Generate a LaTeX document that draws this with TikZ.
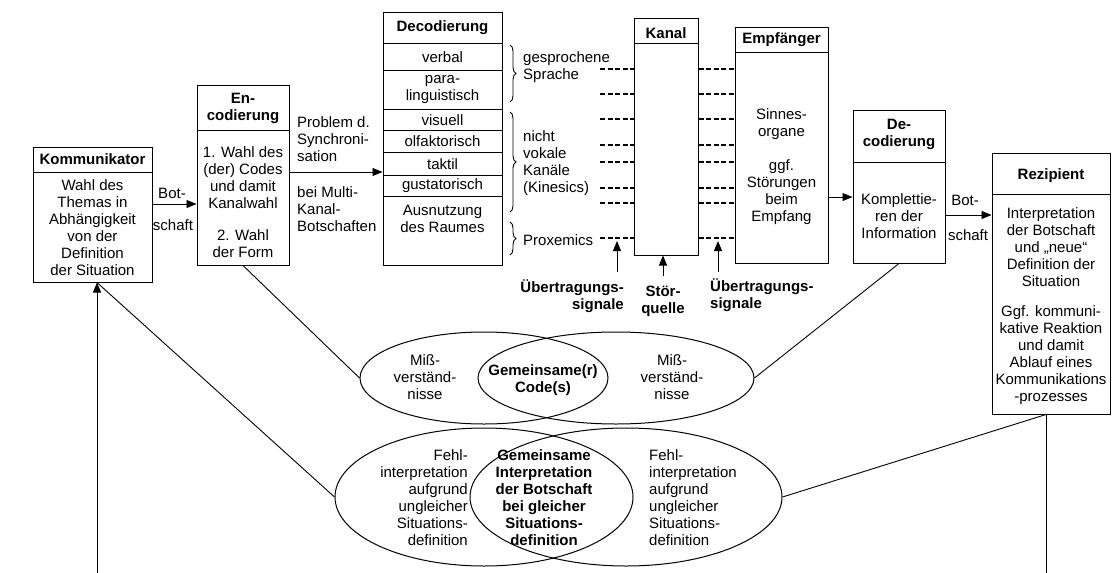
\documentclass[tikz,border=0pt]{standalone}
\usepackage{fontspec}
\setmainfont{Liberation Sans}
\usetikzlibrary{shapes.geometric,arrows.meta,decorations.pathreplacing}
\begin{document}
\begin{tikzpicture}[x=1pt,y=-1pt,
  box/.style={draw, line width=1pt, inner sep=0pt},
  txt/.style={font=\fontsize{15}{17}\selectfont, align=center, inner sep=0pt},
  ttl/.style={font=\fontsize{15}{17}\selectfont\bfseries, align=center, inner sep=0pt},
  arr/.style={line width=0.9pt, -{Triangle[length=10pt,width=8pt]}},
  ln/.style={line width=0.9pt},
  dsh/.style={line width=1.1pt, dash pattern=on 5pt off 2.5pt},
  brc/.style={decorate, decoration={brace, amplitude=6pt}, line width=0.9pt},
  ell/.style={draw, ellipse, line width=1pt, inner sep=0pt}]
\useasboundingbox (0,0) rectangle (1114,573);

% boxes
\node[box, minimum width=119pt, minimum height=135pt] (komm) at (92.5,214.5) {};
\node[box, minimum width=92pt, minimum height=180pt] (enc) at (243,175) {};
\node[box, minimum width=119pt, minimum height=253pt] (dec) at (442.5,138.5) {};
\node[box, minimum width=64pt, minimum height=237pt] (kanal) at (666,136.5) {};
\node[box, minimum width=93pt, minimum height=236pt] (empf) at (781.5,145) {};
\node[box, minimum width=92pt, minimum height=153pt] (dec2) at (899,186.5) {};
\node[box, minimum width=118pt, minimum height=261pt] (rez) at (1051,283.5) {};

% dividers
\draw[line width=1pt] (komm.west |- 0,172) -- (komm.east |- 0,172);
\draw[line width=1pt] (enc.west |- 0,130) -- (enc.east |- 0,130);
\foreach \yy in {43,70,109,130,152,175,196}
  \draw[line width=1pt] (dec.west |- 0,\yy) -- (dec.east |- 0,\yy);
\draw[line width=1pt] (kanal.west |- 0,43) -- (kanal.east |- 0,43);
\draw[line width=1pt] (empf.west |- 0,52) -- (empf.east |- 0,52);
\draw[line width=1pt] (dec2.west |- 0,162) -- (dec2.east |- 0,162);
\draw[line width=1pt] (rez.west |- 0,194) -- (rez.east |- 0,194);

% Kommunikator
\node[ttl] (kommT) at (92.5,159.5) {Kommunikator};
\node[txt] (kommB) at (92.5,228) {Wahl des\\Themas in\\Abhängigkeit\\von der\\Definition\\der Situation};
\node[txt] (bot1) at (172,193) {Bot-};
\node[txt] (sch1) at (173,225) {schaft};

% Encodierung
\node[ttl] (encT) at (243,108) {En-\\codierung};
\node[txt] (encB1) at (243,177.5) {1. Wahl des\\(der) Codes\\und damit\\Kanalwahl};
\node[txt] (encB2) at (243,244) {2. Wahl\\der Form};
\node[txt, anchor=west, align=left] (prob) at (297,139) {Problem d.\\Synchroni-\\sation};
\node[txt, anchor=west, align=left] (multi) at (297,209) {bei Multi-\\Kanal-\\Botschaften};

% Decodierung list
\node[ttl] (decT) at (442.5,28) {Decodierung};
\node[txt] (verb) at (442.5,57) {verbal};
\node[txt] (para) at (442.5,90) {para-\\linguistisch};
\node[txt] (vis) at (442.5,120) {visuell};
\node[txt] (olf) at (442.5,141) {olfaktorisch};
\node[txt] (tak) at (442.5,164) {taktil};
\node[txt] (gus) at (442.5,186) {gustatorisch};
\node[txt] (aus) at (442.5,219) {Ausnutzung\\des Raumes};

% braces
\coordinate (b1a) at (510,45); \coordinate (b1b) at (510,102);
\coordinate (b2a) at (510,112); \coordinate (b2b) at (510,212);
\coordinate (b3a) at (510,222); \coordinate (b3b) at (510,255);
\draw[brc] (b1a) -- (b1b);
\draw[brc] (b2a) -- (b2b);
\draw[brc] (b3a) -- (b3b);
\node[txt, anchor=west, align=left] (gesp) at (523,67) {gesprochene\\Sprache};
\node[txt, anchor=west, align=left] (nicht) at (523,163.5) {nicht\\vokale\\Kanäle\\(Kinesics)};
\node[txt, anchor=west, align=left] (prox) at (523,240) {Proxemics};

% Kanal
\node[ttl] (kanalT) at (666,33) {Kanal};
\foreach \yy in {69,94,119,145,162,188,203,238}{
  \coordinate (dl) at (600,\yy);
  \draw[dsh] (dl) -- (kanal.west |- dl);
  \draw[dsh] (kanal.east |- dl) -- (empf.west |- dl);
}

% Empfaenger
\node[ttl] (empfT) at (781.5,40) {Empfänger};
\node[txt] (empfB1) at (781.5,124.5) {Sinnes-\\organe};
\node[txt] (empfB2) at (781.5,192.5) {ggf.\\Störungen\\beim\\Empfang};

% Decodierung 2
\node[ttl] (dec2T) at (899,134) {De-\\codierung};
\node[txt] (dec2B) at (899,216.5) {Komplettie-\\ren der\\Information};
\node[txt] (bot2) at (965,200) {Bot-};
\node[txt] (sch2) at (968,235) {schaft};

% Rezipient
\node[ttl] (rezT) at (1051,176) {Rezipient};
\node[txt] (rezB1) at (1051,247) {Interpretation\\der Botschaft\\und „neue“\\Definition der\\Situation};
\node[txt] (rezB2) at (1051,355.5) {Ggf. kommuni-\\kative Reaktion\\und damit\\Ablauf eines\\Kommunikations\\-prozesses};

% signal labels and arrows
\node[ttl, anchor=east, align=right] (ue1) at (624,296) {Übertragungs-\\signale};
\node[ttl] (stoer) at (663,301) {Stör-\\quelle};
\node[ttl, anchor=west, align=left] (ue2) at (710,295) {Übertragungs-\\signale};
\coordinate (u1s) at (617,272); \coordinate (u1e) at (617,241);
\coordinate (u2s) at (718,272); \coordinate (u2e) at (718,241);
\coordinate (s1) at (663,276);
\draw[arr] (u1s) -- (u1e);
\draw[arr] (u2s) -- (u2e);
\draw[arr] (s1) -- (s1 |- kanal.south);

% main arrows
\draw[arr] ([yshift=10.5pt]komm.east) -- ([yshift=10.5pt]komm.east -| enc.west);
\draw[arr] ([yshift=3pt]enc.east) -- ([yshift=3pt]enc.east -| dec.west);
\draw[arr] ([yshift=-52pt]empf.east) -- ([yshift=-52pt]empf.east -| dec2.west);
\draw[arr] ([yshift=-28.5pt]dec2.east) -- ([yshift=-28.5pt]dec2.east -| rez.west);

% ellipses
\node[ell, minimum width=248pt, minimum height=92pt] (e1) at (484,378) {};
\node[ell, minimum width=276pt, minimum height=92pt] (e2) at (616,378) {};
\node[ell, minimum width=298pt, minimum height=138pt] (e3) at (484,497) {};
\node[ell, minimum width=312pt, minimum height=138pt] (e4) at (626,497) {};

\node[txt] (mis1) at (425,377) {Miß-\\verständ-\\nisse};
\node[txt] (mis2) at (672,377) {Miß-\\verständ-\\nisse};
\node[ttl] (code) at (543,380) {Gemeinsame(r)\\Code(s)};
\node[txt, anchor=east, align=right] (fehl1) at (468,497.5) {Fehl-\\interpretation\\aufgrund\\ungleicher\\Situations-\\definition};
\node[ttl] (gem) at (544,497.5) {Gemeinsame\\Interpretation\\der Botschaft\\bei gleicher\\Situations-\\definition};
\node[txt, anchor=west, align=left] (fehl2) at (649,497.5) {Fehl-\\interpretation\\aufgrund\\ungleicher\\Situations-\\definition};

% connectors to ellipses
\coordinate (kb) at (97,573);
\coordinate (rb) at (1046,573);
\draw[ln] (enc.south) -- (e1.west);
\draw[ln] (dec2.south) -- (e2.east);
\draw[ln] ([xshift=4.5pt]komm.south) -- (e3.west);
\draw[arr] (kb) -- ([xshift=4.5pt]komm.south);
\draw[ln] ([xshift=-5pt]rez.south) -- (e4.east);
\draw[ln] ([xshift=-5pt]rez.south) -- (rb);
\end{tikzpicture}
\end{document}
